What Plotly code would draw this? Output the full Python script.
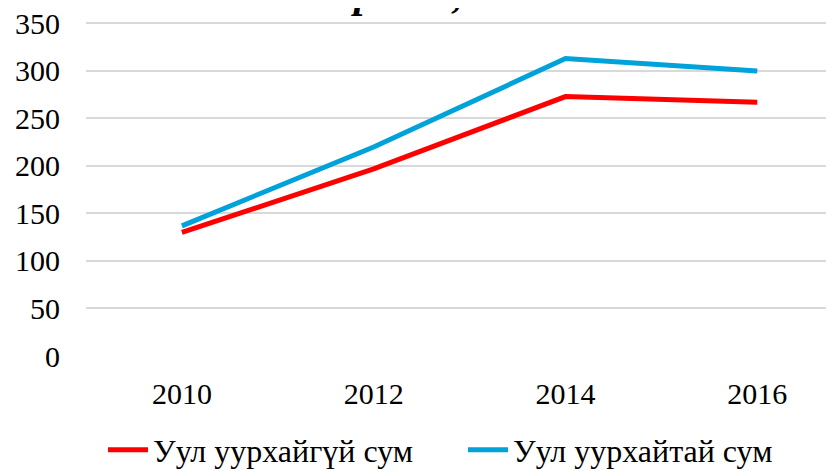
import plotly.graph_objects as go

years = ["2010", "2012", "2014", "2016"]
no_mining = [130, 197, 273, 267]
mining = [137, 220, 313, 300]
name_no_mining = "Уул уурхайгүй сум"
name_mining = "Уул уурхайтай сум"
title_text = "орлого, мян.төг"
y_ticks = [0, 50, 100, 150, 200, 250, 300, 350]

FONT = "Liberation Serif"
OFF = 8  # page body margin

fig = go.Figure()
fig.add_trace(go.Scatter(x=years, y=no_mining, mode="lines", name=name_no_mining,
                         line=dict(color="#FF0000", width=5)))
fig.add_trace(go.Scatter(x=years, y=mining, mode="lines", name=name_mining,
                         line=dict(color="#00A2DA", width=5)))

W, H = 834 - OFF, 471 - OFF
ml, mr, mt = 86 - OFF, 0, 20 - OFF
mb = H - (356 - OFF)
ph = H - mt - mb
pw = W - ml - mr
fig.update_layout(
    width=W, height=H,
    margin=dict(l=ml, r=mr, t=mt, b=mb, autoexpand=False),
    paper_bgcolor="white", plot_bgcolor="white",
    font=dict(family=FONT, size=30, color="black"),
    showlegend=True,
    legend=dict(orientation="h", x=(103 - 86) / pw, xanchor="left",
                y=-(450 - 356) / ph, yanchor="middle",
                font=dict(family=FONT, size=32), itemwidth=40,
                entrywidth=305, entrywidthmode="pixels",
                tracegroupgap=0),
    xaxis=dict(type="category", range=[-0.5, 3.4], showgrid=False, showline=False,
               zeroline=False, ticks="", ticklabelstandoff=17,
               tickfont=dict(family=FONT, size=30)),
    yaxis=dict(range=[0, 353.6], tickvals=y_ticks, showgrid=True, gridcolor="#D9D9D9",
               gridwidth=1.5, zeroline=False, showline=False, ticks="",
               ticklabelstandoff=25, ticklabeloverflow="allow",
               tickfont=dict(family=FONT, size=30)),
)
fig.add_annotation(text="<b><i>" + title_text + "</i></b>", xref="paper", yref="paper",
                   x=(480 - 86) / pw, y=1, xanchor="center", yanchor="bottom",
                   yshift=2, showarrow=False, font=dict(family=FONT, size=42, color="black"))
fig.write_html("out.html")
